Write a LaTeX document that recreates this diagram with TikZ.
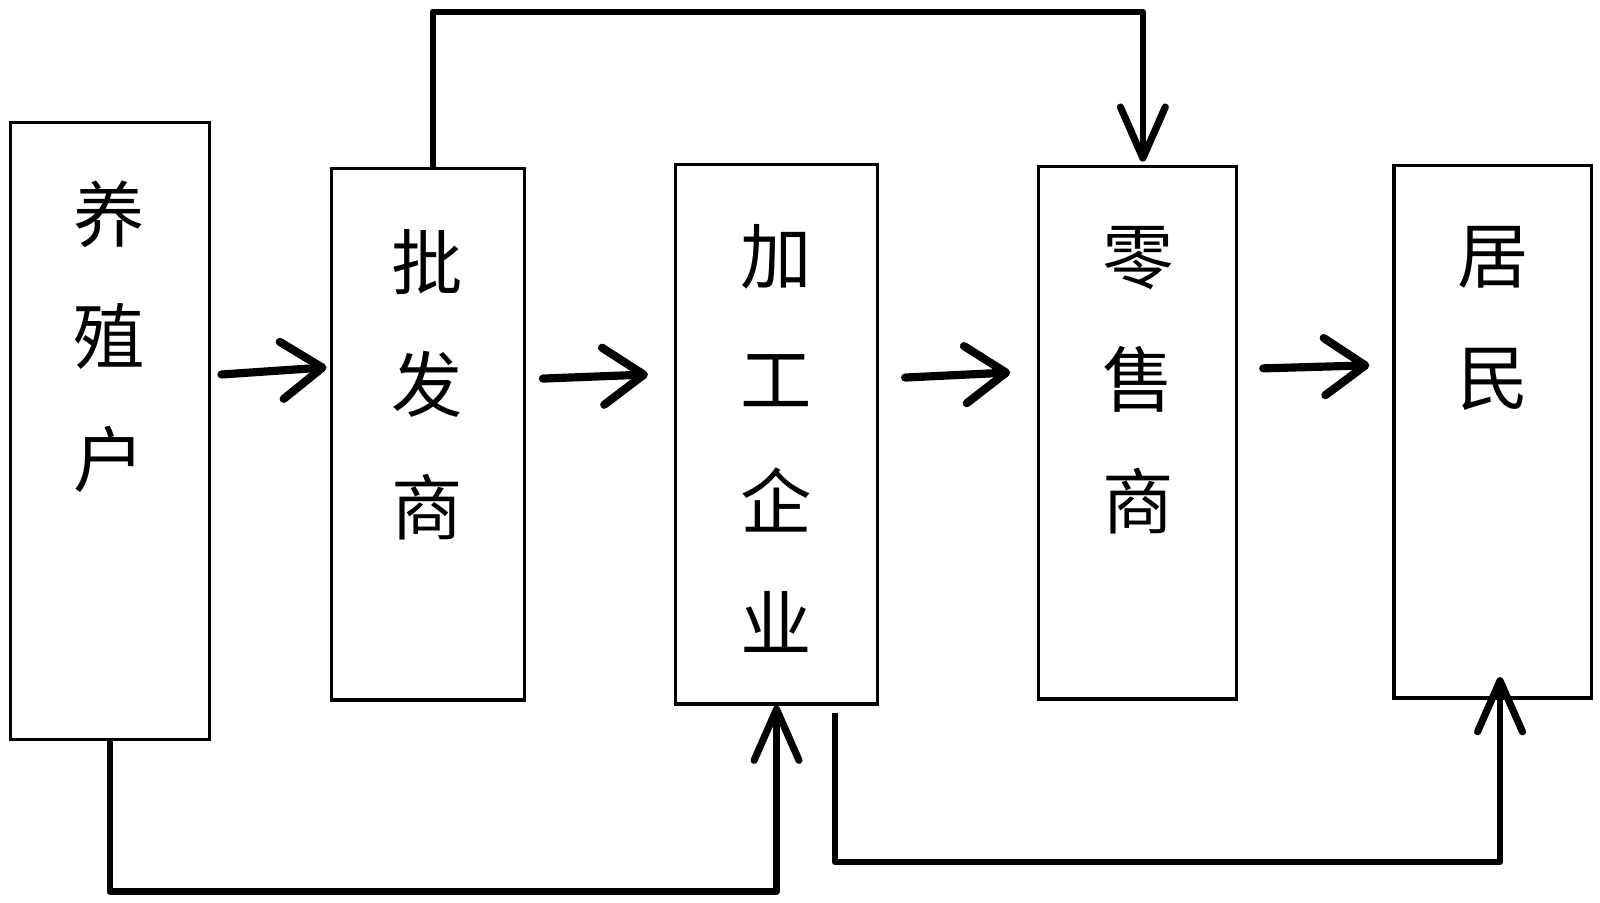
\documentclass[tikz,border=0pt]{standalone}
\usepackage{fontspec}
\setmainfont{Noto Sans CJK SC}
\usetikzlibrary{arrows.meta}
\begin{document}
\begin{tikzpicture}[x=0.5pt,y=-0.5pt,
  box/.style={draw, line width=1.6pt, inner sep=0pt, rectangle},
  lbl/.style={align=center, font=\fontsize{35}{60}\selectfont, inner sep=0pt},
  flow/.style={line width=4pt, line cap=round, -{Straight Barb[length=20pt,width=28pt,line width=4pt,round]}},
  link/.style={line width=3pt, line join=round, -{Straight Barb[length=25pt,width=22pt,line width=3.5pt,round]}}]
\useasboundingbox (0,0) rectangle (1568,884);
% boxes
\node[box, minimum width=97.5pt, minimum height=302.5pt] (A) at (107.5,422.5) {};
\node[box, minimum width=94.5pt, minimum height=260.5pt] (B) at (419.5,425.5) {};
\node[box, minimum width=99pt, minimum height=264.5pt] (C) at (761,425.5) {};
\node[box, minimum width=97pt, minimum height=261pt] (D) at (1115,424) {};
\node[box, minimum width=97pt, minimum height=261pt] (E) at (1463,423) {};
% labels
\node[lbl] (tA) at (107,330) {养\\殖\\户};
\node[lbl] (tB) at (419,377) {批\\发\\商};
\node[lbl] (tC) at (761,430) {加\\工\\企\\业};
\node[lbl] (tD) at (1115,373) {零\\售\\商};
\node[lbl] (tE) at (1463,312) {居\\民};
% horizontal flows
\coordinate (f1s) at (217,367); \coordinate (f1e) at (320,360);
\coordinate (f2s) at (532,371); \coordinate (f2e) at (635,367);
\coordinate (f3s) at (887,370); \coordinate (f3e) at (990,365);
\coordinate (f4s) at (1238,361); \coordinate (f4e) at (1342,358);
\draw[flow] (f1s) -- (f1e);
\draw[flow] (f2s) -- (f2e);
\draw[flow] (f3s) -- (f3e);
\draw[flow] (f4s) -- (f4e);
% long connectors
\draw[link] ([xshift=2.25pt]B.north) -- ++(0,-152) -| ([xshift=2.5pt,yshift=1.5pt]D.north);
\draw[link] (A.south) -- ++(0,147) -| (C.south);
\draw[link] ([xshift=28.5pt,yshift=-3.5pt]C.south) -- ++(0,146) -| ([xshift=3.5pt,yshift=11pt]E.south);
\end{tikzpicture}
\end{document}
